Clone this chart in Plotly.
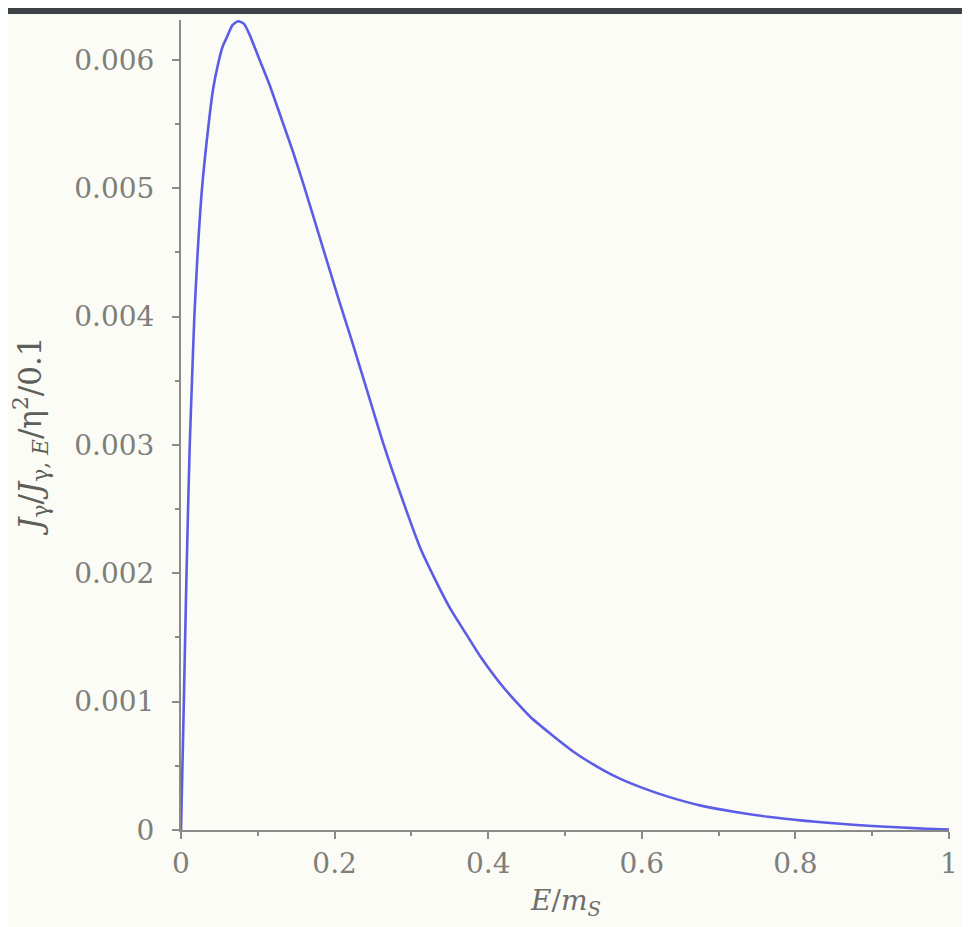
import plotly.graph_objects as go

# Curve values
energy = [0, 0.0019, 0.0037, 0.0054, 0.0072, 0.0092, 0.0114, 0.0143, 0.0174, 0.0217,
          0.0274, 0.036, 0.042, 0.048, 0.054, 0.060, 0.067, 0.0745, 0.082, 0.089,
          0.101, 0.115, 0.132, 0.146, 0.160, 0.184, 0.205, 0.223, 0.244, 0.264,
          0.288, 0.312, 0.331, 0.351, 0.372, 0.390, 0.420, 0.455, 0.483, 0.511,
          0.540, 0.568, 0.600, 0.634, 0.677, 0.720, 0.764, 0.810, 0.850, 0.900,
          0.938, 0.970, 1.0]
flux = [0, 0.0005, 0.001, 0.0015, 0.002, 0.0025, 0.003, 0.0035, 0.004, 0.0045,
        0.005, 0.0055, 0.00578, 0.00596, 0.00610, 0.00618, 0.00627, 0.0063, 0.00628, 0.00620,
        0.00602, 0.00581, 0.00552, 0.00528, 0.00502, 0.00455, 0.00414, 0.00380, 0.00339, 0.00300,
        0.00258, 0.00219, 0.00195, 0.00172, 0.00152, 0.00135, 0.00111, 0.00088, 0.00074, 0.00061,
        0.00050, 0.00041, 0.00033, 0.00026, 0.00019, 0.000142, 0.000103, 0.000073, 0.000052, 0.000031,
        0.000019, 0.00001, 0.000004]

x_ticks = [0, 0.2, 0.4, 0.6, 0.8, 1]
x_tick_labels = ["0", "0.2", "0.4", "0.6", "0.8", "1"]
y_ticks = [0, 0.001, 0.002, 0.003, 0.004, 0.005, 0.006]
y_tick_labels = ["0", "0.001", "0.002", "0.003", "0.004", "0.005", "0.006"]
x_title = "<i>E</i>/<i>m</i><sub><i>S</i></sub>"
y_title = "<i>J</i><sub>γ</sub>/<i>J</i><sub>γ, <i>E</i></sub>/η<sup>2</sup>/0.1"

BG = "#fbfcf6"
AXIS = "#8a8a86"
TICKFONT = dict(family="DejaVu Serif", size=28, color="#7e7e7a")

fig = go.Figure()
fig.add_trace(go.Scatter(
    x=energy, y=flux, mode="lines",
    line=dict(color="#5c5ce6", width=2.6, shape="spline", smoothing=0.6),
    hoverinfo="skip", showlegend=False,
))

# page body adds an 8 px offset, so the figure is sized to fill the rest of the window
fig.update_layout(
    width=962, height=919,
    margin=dict(l=173, r=21, t=12, b=97),
    paper_bgcolor=BG, plot_bgcolor=BG,
    showlegend=False,
    shapes=[dict(type="rect", xref="paper", yref="paper",
                 x0=-0.25, x1=1.05, y0=1 + 6 / 810, y1=1 + 13 / 810,
                 fillcolor="#3d4247", line=dict(width=0), layer="above")],
    annotations=[
        dict(text=x_title, xref="paper", yref="paper", x=0.5, y=0,
             xanchor="center", yanchor="middle", yshift=-72, showarrow=False,
             font=dict(family="DejaVu Serif", size=28, color="#6e6e6a")),
        dict(text=y_title, xref="paper", yref="paper", x=0, y=0.5,
             xanchor="center", yanchor="middle", xshift=-151, yshift=-12,
             textangle=-90, showarrow=False,
             font=dict(family="DejaVu Serif", size=31, color="#5e5e5a")),
    ],
)

fig.update_xaxes(
    range=[0, 1.0], tickvals=x_ticks, ticktext=x_tick_labels,
    showline=True, linecolor=AXIS, linewidth=2, automargin=False,
    ticks="outside", ticklen=7, tickwidth=2, tickcolor=AXIS,
    minor=dict(dtick=0.1, ticks="outside", ticklen=4, tickwidth=2, tickcolor=AXIS),
    showgrid=False, zeroline=False, tickfont=TICKFONT,
)
fig.update_yaxes(
    range=[0, 0.00631], tickvals=y_ticks, ticktext=y_tick_labels,
    showline=True, linecolor=AXIS, linewidth=2, automargin=False,
    ticks="outside", ticklen=7, tickwidth=2, tickcolor=AXIS,
    minor=dict(dtick=0.0005, ticks="outside", ticklen=4, tickwidth=2, tickcolor=AXIS),
    showgrid=False, zeroline=False, tickfont=TICKFONT, ticklabelstandoff=12,
)

fig.write_html("out.html")
